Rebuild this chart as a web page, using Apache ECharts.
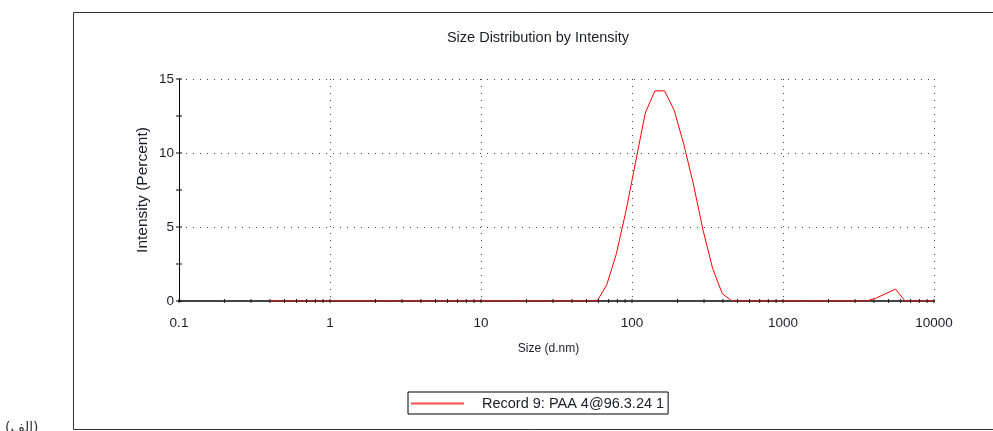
<!DOCTYPE html>
<html>
<head>
<meta charset="utf-8">
<script src="https://cdn.jsdelivr.net/npm/echarts@6/dist/echarts.min.js"></script>
<style>
  html, body { margin: 0; padding: 0; background: #fff; }
  #sizeChart { width: 993px; height: 431px; }
</style>
</head>
<body>
<div id="sizeChart"></div>
<script>
// size classes (d.nm) of the instrument
const sizeClasses = [
  0.4000, 0.4632, 0.5365, 0.6213, 0.7195, 0.8332, 0.9649, 1.117, 1.294, 1.499,
  1.736, 2.010, 2.328, 2.696, 3.122, 3.615, 4.187, 4.849, 5.615, 6.503,
  7.531, 8.721, 10.10, 11.70, 13.54, 15.69, 18.17, 21.04, 24.36, 28.21,
  32.67, 37.84, 43.82, 50.75, 58.77, 68.06, 78.82, 91.28, 105.7, 122.4,
  141.8, 164.2, 190.1, 220.2, 255.0, 295.3, 342.0, 396.1, 458.7, 531.2,
  615.1, 712.4, 825.0, 955.4, 1106, 1281, 1484, 1718, 1990, 2305,
  2669, 3091, 3580, 4145, 4801, 5560, 6439, 7456, 8635, 10000
];
// intensity (percent) for each class, record 9
const intensity = [
  0, 0, 0, 0, 0, 0, 0, 0, 0, 0,
  0, 0, 0, 0, 0, 0, 0, 0, 0, 0,
  0, 0, 0, 0, 0, 0, 0, 0, 0, 0,
  0, 0, 0, 0, 0, 1.1, 3.2, 6.1, 9.4, 12.7,
  14.2, 14.2, 12.9, 10.6, 7.9, 4.8, 2.2, 0.5, 0, 0,
  0, 0, 0, 0, 0, 0, 0, 0, 0, 0,
  0, 0, 0, 0.2, 0.5, 0.8, 0, 0, 0, 0
];
const seriesName = 'Record 9: PAA 4@96.3.24 1';
const yTicks = [0, 2.5, 5, 7.5, 10, 12.5, 15];
// log axis ticks: majors and 2..9 minors per decade
const xTicks = [];
for (let e = -1; e <= 3; e++) {
  for (let m = 1; m <= 9; m++) xTicks.push(m * Math.pow(10, e));
}
xTicks.push(10000);

const FONT = 'Liberation Sans';
const TXT = '#1c1c28';

let chart = echarts.init(document.getElementById('sizeChart'));

let option = {
  animation: false,
  title: {
    text: 'Size Distribution by Intensity',
    left: 533,
    top: 25,
    textAlign: 'center',
    textStyle: { fontFamily: FONT, fontSize: 14.5, fontWeight: 'normal', color: TXT }
  },
  grid: { left: 179, right: 59, top: 79, bottom: 130 },
  legend: {
    left: 408,
    top: 392,
    padding: [4, 4, 3, 3],
    borderColor: '#000',
    borderWidth: 1,
    itemWidth: 53,
    itemHeight: 2,
    icon: 'rect',
    data: [seriesName],
    textStyle: { fontFamily: FONT, fontSize: 14.5, color: TXT, padding: [0, 0, 0, 13] }
  },
  xAxis: {
    type: 'log',
    logBase: 10,
    min: 0.1,
    max: 10000,
    name: 'Size (d.nm)',
    nameLocation: 'middle',
    nameGap: 42,
    nameTextStyle: { fontFamily: FONT, fontSize: 12, color: TXT, padding: [0, 16, 0, 0] },
    axisLine: { lineStyle: { color: '#444', width: 2 } },
    axisTick: { show: false },
    axisLabel: {
      fontFamily: FONT, fontSize: 13.5, color: TXT, margin: 15,
      formatter: function (v) { return String(v); }
    },
    splitLine: { show: true, lineStyle: { color: '#444', type: [1, 6], width: 1 } }
  },
  yAxis: {
    type: 'value',
    min: 0,
    max: 15,
    interval: 5,
    name: 'Intensity (Percent)',
    nameLocation: 'middle',
    nameGap: 28,
    nameMoveOverlap: false,
    nameTextStyle: { fontFamily: FONT, fontSize: 15.5, color: TXT },
    axisLine: { show: true, lineStyle: { color: '#000', width: 1 } },
    axisTick: { show: false },
    axisLabel: { fontFamily: FONT, fontSize: 13.5, color: TXT, margin: 5 },
    splitLine: {
      show: true,
      lineStyle: { color: '#444', type: [1, 6], width: 1 }
    }
  },
  graphic: [
    {
      type: 'rect',
      shape: { x: 73.5, y: 12.5, width: 1000, height: 417 },
      style: { fill: 'none', stroke: '#333', lineWidth: 1 },
      silent: true
    },
    {
      type: 'text',
      left: 5,
      top: 421,
      style: { text: '(الف)', font: '14px "DejaVu Sans"', fill: '#333' },
      silent: true
    }
  ],
  series: [
    {
      name: seriesName,
      type: 'line',
      data: sizeClasses.map(function (s, i) { return [s, intensity[i]]; }),
      showSymbol: false,
      symbol: 'none',
      lineStyle: { color: '#ff0000', width: 1 },
      itemStyle: { color: '#ff5050' },
      z: 3
    },
    {
      // small tick marks crossing the x axis
      type: 'custom',
      data: xTicks.map(function (v) { return [v, 0]; }),
      renderItem: function (params, api) {
        let p = api.coord([api.value(0), 0]);
        return {
          type: 'line',
          shape: { x1: p[0], y1: p[1] - 2, x2: p[0], y2: p[1] + 2 },
          style: { stroke: '#222', lineWidth: 1 }
        };
      },
      silent: true,
      z: 5
    },
    {
      // small tick marks crossing the y axis
      type: 'custom',
      data: yTicks.map(function (v) { return [0.1, v]; }),
      renderItem: function (params, api) {
        let p = api.coord([0.1, api.value(1)]);
        return {
          type: 'line',
          shape: { x1: p[0] - 3, y1: p[1], x2: p[0] + 3, y2: p[1] },
          style: { stroke: '#000', lineWidth: 1 }
        };
      },
      silent: true,
      z: 5
    }
  ]
};

chart.setOption(option);
</script>
</body>
</html>
